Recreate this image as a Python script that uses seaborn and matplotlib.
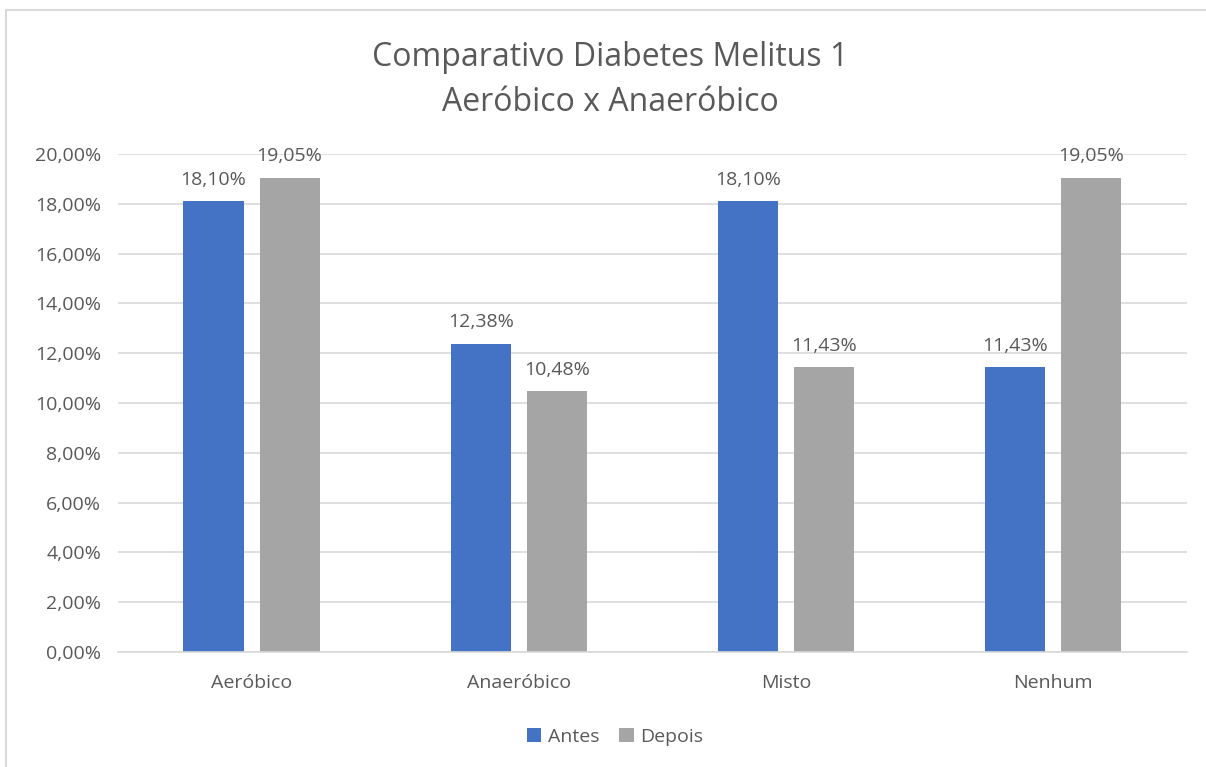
import numpy as np
import pandas as pd
import matplotlib.pyplot as plt
import seaborn as sns
from matplotlib.patches import Rectangle
from matplotlib.ticker import FuncFormatter

# dados do gráfico
categorias = ["Aeróbico", "Anaeróbico", "Misto", "Nenhum"]
antes = [0.1810, 0.1238, 0.1810, 0.1143]
depois = [0.1905, 0.1048, 0.1143, 0.1905]
series = ["Antes", "Depois"]
cores = ["#4472C4", "#A5A5A5"]

df = pd.DataFrame({
    "categoria": categorias * 2,
    "valor": antes + depois,
    "serie": [series[0]] * len(categorias) + [series[1]] * len(categorias),
})

sns.set_theme(style="white")
plt.rcParams["font.family"] = ["Open Sans", "DejaVu Sans"]
texto = "#595959"
fs = 14

fig = plt.figure(figsize=(12.06, 7.67), dpi=100)
ax = fig.add_axes([0.0978, 0.1499, 0.8862, 0.6493])

sns.barplot(data=df, x="categoria", y="valor", hue="serie", palette=cores,
            saturation=1, linewidth=0, width=0.57, gap=0.21, ax=ax, legend=True)

ax.set_ylim(0, 0.2)
ax.set_xlim(-0.5, 3.5)
ax.set_yticks(np.arange(0, 0.2001, 0.02))
ax.yaxis.set_major_formatter(FuncFormatter(lambda v, p: f"{v*100:.2f}%".replace(".", ",")))
ax.grid(axis="y", color="#D9D9D9", linewidth=1.2)
ax.set_axisbelow(True)
for s in ["top", "right", "left"]:
    ax.spines[s].set_visible(False)
ax.spines["bottom"].set_color("#D9D9D9")
ax.spines["bottom"].set_linewidth(1.2)
ax.tick_params(axis="both", colors=texto, labelsize=fs, length=0)
ax.tick_params(axis="x", pad=16)
ax.tick_params(axis="y", pad=12)
ax.set_xlabel("")
ax.set_ylabel("")

# rótulos de dados
for cont in ax.containers:
    ax.bar_label(cont, labels=[f"{v*100:.2f}%".replace(".", ",") for v in cont.datavalues],
                 padding=9, color=texto, fontsize=fs)

# legenda
handles, labels = ax.get_legend_handles_labels()
ax.legend_.remove()
fig.legend(handles, labels, loc="center", bbox_to_anchor=(0.51, 0.039), ncol=2,
           frameon=False, fontsize=fs, labelcolor=texto, handlelength=0.75,
           handleheight=0.75, handletextpad=0.35, columnspacing=1.0)

# título
fig.text(0.506, 0.925, "Comparativo Diabetes Melitus 1", ha="center", va="center",
         fontsize=23, color=texto)
fig.text(0.506, 0.866, "Aeróbico x Anaeróbico", ha="center", va="center",
         fontsize=23, color=texto)

# moldura do gráfico
fig.patches.append(Rectangle((6 / 1206, -0.05), 1.1, 1 - 10 / 767 + 0.05,
                             transform=fig.transFigure, fill=False,
                             edgecolor="#D9D9D9", linewidth=1.5))

fig.savefig("out.png", dpi=100)
